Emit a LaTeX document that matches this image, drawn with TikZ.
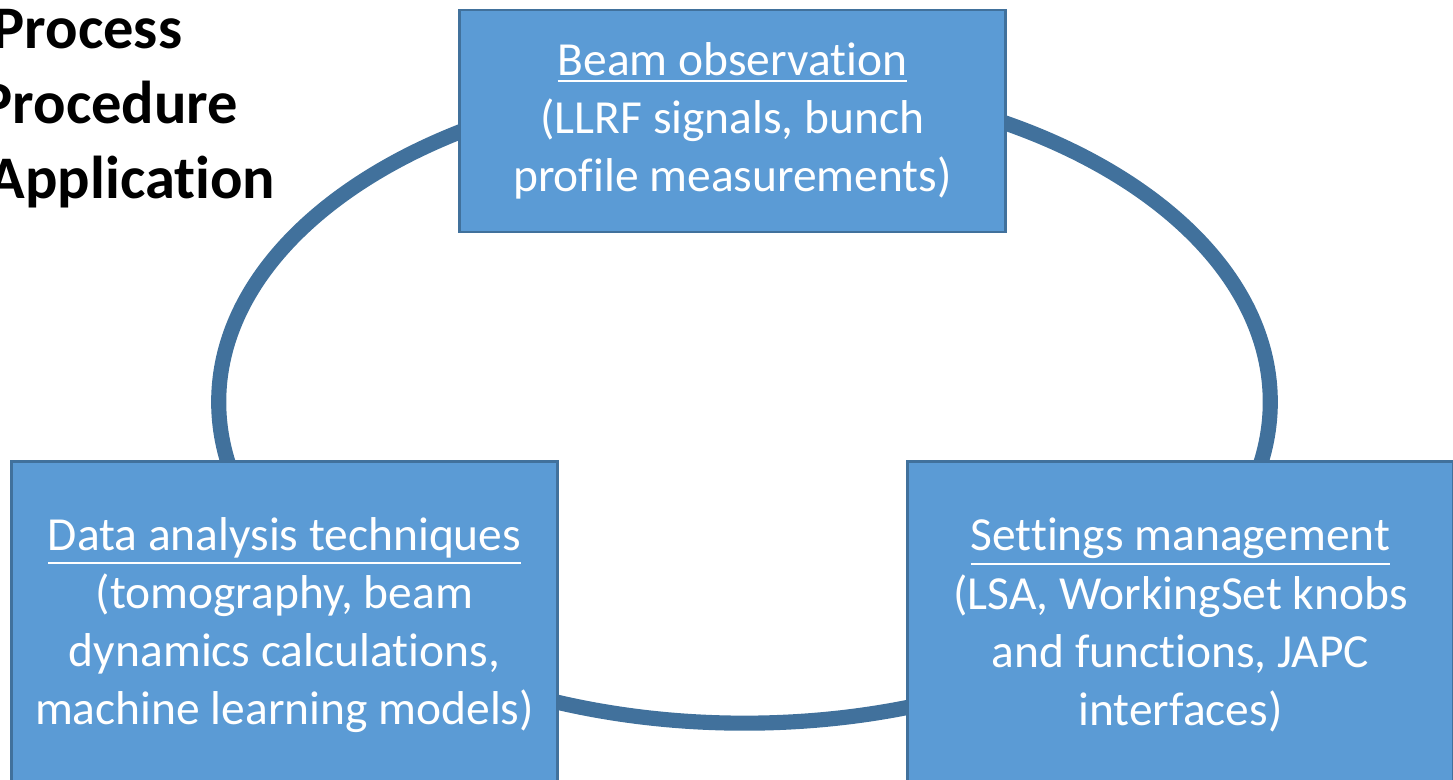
\documentclass[tikz,border=0pt]{standalone}
\usepackage{fontspec}
\setmainfont{Carlito}[RawFeature={-liga;-clig;-calt}]
\definecolor{boxfill}{HTML}{5B9BD5}
\definecolor{boxline}{HTML}{41719C}

\begin{document}
\begin{tikzpicture}[x=0.01cm,y=-0.01cm,
        stage/.style={draw=boxline,line width=0.8pt,fill=boxfill,text=white,
            minimum width=5.45cm,minimum height=3.26cm,inner sep=0pt,align=center,
            font=\fontsize{13.5}{16.5}\selectfont},
        title/.style={anchor=base west,inner sep=0pt,font=\bfseries\fontsize{17.2}{21}\selectfont}]
        \useasboundingbox (0,0) rectangle (1453,780);

        % cycle behind the boxes
        \coordinate (cyc) at (744.5,402);
        \draw[boxline,line width=4.3pt] (cyc) ellipse [x radius=5.255cm, y radius=3.21cm];

        \node[title] (proc) at (-8,49) {Process};
        \node[title] (procd) at (-20,124) {Procedure};
        \node[title] (appl) at (-12,199) {Application};

        \node[stage,minimum height=2.22cm] (beam) at (732.5,121) {\underline{Beam observation}\\(LLRF signals, bunch\\profile measurements)};
        \node[stage] (data) at (284.5,625) {\underline{Data analysis techniques}\\(tomography, beam\\dynamics calculations,\\machine learning models)};
        \node[stage] (sett) at (1180.5,625) {\underline{Settings management}\\(LSA, WorkingSet knobs\\and functions, JAPC\\interfaces)};
    \end{tikzpicture}
\end{document}
